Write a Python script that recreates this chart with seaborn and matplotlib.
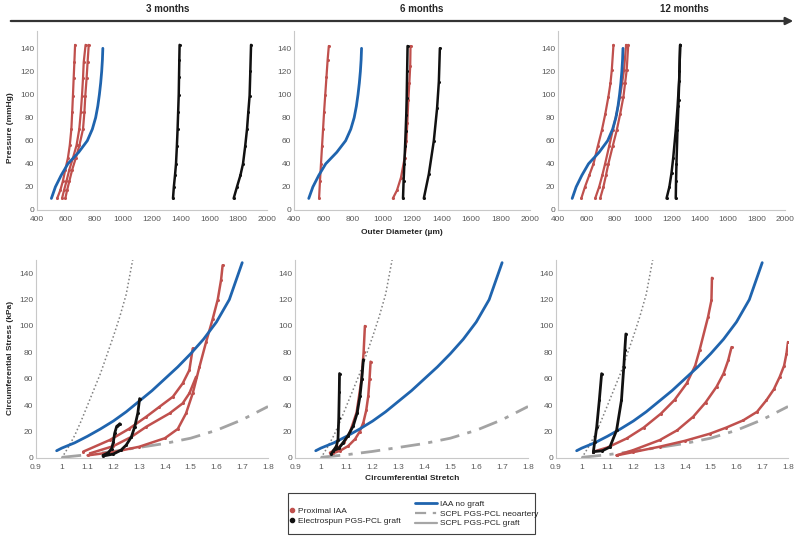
import matplotlib
matplotlib.use("Agg")
import matplotlib.pyplot as plt
from matplotlib.lines import Line2D
from matplotlib.patches import Rectangle, FancyArrowPatch
import seaborn as sns

sns.set_style("white")
plt.rcParams["font.family"] = ["Liberation Sans", "DejaVu Sans"]

# ---------------- data ----------------
periods = ["3 months", "6 months", "12 months"]

# pressure / outer diameter (top row)
iaa_press = [10, 20, 30, 40, 50, 60, 70, 80, 90, 100, 110, 120, 130, 140]
iaa_diam = [500, 528, 568, 615, 690, 750, 785, 808, 823, 834, 843, 850, 855, 858]

press_a = [10, 17, 25, 35, 45, 56, 70, 85, 99, 114, 128, 143]
m3_red1_diam = [540, 562, 580, 597, 615, 628, 639, 645, 650, 655, 660, 665]
m3_red2_diam = [574, 588, 605, 625, 650, 675, 694, 705, 713, 720, 725, 738]
m3_red3_diam = [597, 609, 625, 645, 670, 695, 720, 730, 736, 745, 752, 760]
m3_blk1_press = [10, 20, 30, 40, 55, 70, 85, 100, 115, 130, 143]
m3_blk1_diam = [1346, 1352, 1360, 1367, 1373, 1378, 1382, 1386, 1388, 1390, 1392]
m3_blk2_press = [10, 20, 30, 40, 55, 70, 85, 99, 120, 143]
m3_blk2_diam = [1768, 1791, 1815, 1833, 1848, 1861, 1870, 1879, 1884, 1889]

m6_red1_press = [10, 25, 40, 55, 70, 85, 100, 115, 130, 142]
m6_red1_diam = [570, 576, 583, 590, 597, 604, 612, 620, 628, 636]
m6_red2_press = [10, 17, 28, 45, 60, 75, 95, 110, 125, 142]
m6_red2_diam = [1070, 1098, 1125, 1150, 1162, 1168, 1175, 1182, 1188, 1190]
m6_blk1_press = [10, 25, 40, 55, 68, 82, 97, 120, 142]
m6_blk1_diam = [1139, 1143, 1148, 1153, 1157, 1161, 1164, 1167, 1170]
m6_blk2_press = [10, 31, 60, 88, 111, 140]
m6_blk2_diam = [1280, 1314, 1348, 1370, 1382, 1389]

press_b = [10, 20, 30, 40, 55, 69, 83, 98, 110, 121, 143]
m12_red1_diam = [564, 590, 620, 650, 680, 709, 733, 755, 770, 779, 791]
m12_red2_diam = [662, 690, 712, 732, 760, 786, 812, 837, 852, 865, 880]
m12_red3_diam = [697, 720, 738, 755, 785, 814, 838, 861, 873, 884, 895]
m12_blk1_press = [10, 20, 32, 45, 69, 90, 112, 143]
m12_blk1_diam = [1165, 1185, 1200, 1212, 1230, 1243, 1254, 1261]
m12_blk2_press = [10, 25, 40, 69, 95, 120, 143]
m12_blk2_diam = [1230, 1232, 1235, 1242, 1250, 1256, 1261]

# circumferential stress / stretch (bottom row)
iaa_stretch = [0.98, 1.0, 1.05, 1.1, 1.15, 1.2, 1.25, 1.3, 1.35, 1.4, 1.45, 1.5, 1.55, 1.6, 1.65, 1.7]
iaa_stress = [5.5, 7.5, 11.5, 16.5, 22, 28, 35, 43, 51, 60, 69, 79, 90, 103, 120, 148]
neo_stretch = [1.0, 1.1, 1.2, 1.3, 1.4, 1.5, 1.6, 1.7, 1.8]
neo_stress = [0.5, 2.5, 5, 8, 11, 15, 21, 29, 39]
graft_stretch = [1.0, 1.025, 1.05, 1.075, 1.1, 1.125, 1.15, 1.175, 1.2, 1.225, 1.25, 1.275]
graft_stress = [0, 8, 17, 28, 40, 52, 64, 78, 92, 107, 124, 150]

m3_r1_x = [1.083, 1.186, 1.26, 1.328, 1.379, 1.431, 1.469, 1.495, 1.508]
m3_r1_y = [4.8, 13.6, 22, 31.3, 38.8, 46.4, 56.5, 66.6, 83]
m3_r2_x = [1.1, 1.2, 1.3, 1.4, 1.45, 1.482, 1.508, 1.534, 1.56, 1.585, 1.605, 1.618, 1.624]
m3_r2_y = [2, 4.5, 8.5, 15, 22, 33.8, 49, 69, 88, 105, 120, 135, 146]
m3_r3_x = [1.109, 1.2, 1.27, 1.328, 1.418, 1.469, 1.495, 1.521]
m3_r3_y = [3.5, 9, 16, 23.7, 33.8, 41.4, 49, 61.5]
m3_b1_x = [1.16, 1.18, 1.193, 1.2, 1.205, 1.213, 1.22, 1.225]
m3_b1_y = [2, 4, 7, 12, 18.6, 24, 25, 26]
m3_b2_x = [1.16, 1.2, 1.23, 1.25, 1.27, 1.283, 1.295, 1.302]
m3_b2_y = [1.5, 3, 6, 9.8, 16, 23.7, 34, 45]

m6_r1_x = [1.035, 1.061, 1.09, 1.112, 1.138, 1.157, 1.165, 1.17]
m6_r1_y = [4, 6.8, 12, 19.3, 34.5, 59.5, 80, 100]
m6_r2_x = [1.045, 1.074, 1.105, 1.132, 1.15, 1.164, 1.175, 1.183, 1.188, 1.192]
m6_r2_y = [3.5, 5.5, 9, 14.3, 20, 26.8, 36, 47, 60, 73]
m6_b1_x = [1.04, 1.048, 1.06, 1.066, 1.069, 1.071, 1.072]
m6_b1_y = [3, 5.5, 9, 14, 30, 50, 64]
m6_b2_x = [1.048, 1.07, 1.086, 1.105, 1.125, 1.14, 1.151, 1.158, 1.164]
m6_b2_y = [5.5, 7.5, 11.7, 17, 24.3, 34, 46.9, 60, 74.5]

m12_r1_x = [1.045, 1.1, 1.174, 1.24, 1.307, 1.36, 1.407, 1.44, 1.457, 1.49, 1.503, 1.505]
m12_r1_y = [4.8, 8, 14.8, 23, 33.6, 44, 56.5, 70, 81.7, 107, 119.5, 136.5]
m12_r2_x = [1.135, 1.2, 1.303, 1.37, 1.432, 1.48, 1.523, 1.55, 1.568, 1.581]
m12_r2_y = [2, 6, 13.6, 21, 31.2, 42, 54, 64, 74, 84]
m12_r3_x = [1.135, 1.2, 1.303, 1.4, 1.497, 1.56, 1.626, 1.68, 1.716, 1.745, 1.768, 1.785, 1.794, 1.8]
m12_r3_y = [2, 4.5, 8.6, 13, 18.4, 23, 28.5, 35, 43.7, 52, 61.5, 70, 79, 87.9]
m12_b1_x = [1.045, 1.05, 1.058, 1.068, 1.077]
m12_b1_y = [4.8, 12, 23.6, 43.7, 63.9]
m12_b2_x = [1.045, 1.08, 1.109, 1.135, 1.154, 1.163, 1.167, 1.171]
m12_b2_y = [4.8, 5.5, 8.3, 21, 43.9, 69, 82, 94]

top_red = [
    [(m3_red1_diam, press_a), (m3_red2_diam, press_a), (m3_red3_diam, press_a)],
    [(m6_red1_diam, m6_red1_press), (m6_red2_diam, m6_red2_press)],
    [(m12_red1_diam, press_b), (m12_red2_diam, press_b), (m12_red3_diam, press_b)],
]
top_black = [
    [(m3_blk1_diam, m3_blk1_press), (m3_blk2_diam, m3_blk2_press)],
    [(m6_blk1_diam, m6_blk1_press), (m6_blk2_diam, m6_blk2_press)],
    [(m12_blk1_diam, m12_blk1_press), (m12_blk2_diam, m12_blk2_press)],
]
bot_red = [
    [(m3_r1_x, m3_r1_y), (m3_r2_x, m3_r2_y), (m3_r3_x, m3_r3_y)],
    [(m6_r1_x, m6_r1_y), (m6_r2_x, m6_r2_y)],
    [(m12_r1_x, m12_r1_y), (m12_r2_x, m12_r2_y), (m12_r3_x, m12_r3_y)],
]
bot_black = [
    [(m3_b1_x, m3_b1_y), (m3_b2_x, m3_b2_y)],
    [(m6_b1_x, m6_b1_y), (m6_b2_x, m6_b2_y)],
    [(m12_b1_x, m12_b1_y), (m12_b2_x, m12_b2_y)],
]

# ---------------- style ----------------
RED = "#c0504d"
BLACK = "#111111"
BLUE = "#1f64ae"
GRAY_DD = "#a3a3a3"
GRAY_DOT = "#7f7f7f"
TICK_C = "#595959"
SPINE_C = "#c8c8c8"

W, H = 800, 540
fig = plt.figure(figsize=(8, 5.4), dpi=100)


def px_axes(left, top, right, bottom):
    return fig.add_axes([left / W, 1 - bottom / H, (right - left) / W, (bottom - top) / H])


def trace(ax, x, y, color, lw, ls="-", marker=None):
    sns.lineplot(x=x, y=y, ax=ax, sort=False, estimator=None, color=color,
                 lw=lw, linestyle=ls, marker=marker, markersize=2.2,
                 markeredgewidth=0, legend=False)


def style_axes(ax):
    sns.despine(ax=ax)
    for s in ["left", "bottom"]:
        ax.spines[s].set_color(SPINE_C)
        ax.spines[s].set_linewidth(0.8)
    ax.tick_params(axis="both", labelsize=6, colors=SPINE_C, labelcolor=TICK_C,
                   length=2, width=0.6, pad=2)
    ax.tick_params(axis="y", length=0)
    ax.set_xlabel("")
    ax.set_ylabel("")


top_pos = [(37, 31, 267, 210), (294, 31, 530, 210), (558, 31, 785, 210)]
bot_pos = [(36, 260, 268, 458), (295, 260, 528, 458), (556, 260, 788, 458)]

for i in range(3):
    ax = px_axes(*top_pos[i])
    for x, y in top_red[i]:
        trace(ax, x, y, RED, 1.6, marker="o")
    trace(ax, iaa_diam, iaa_press, BLUE, 2.0)
    for x, y in top_black[i]:
        trace(ax, x, y, BLACK, 1.8, marker="o")
    ax.set_xlim(400, 2000)
    ax.set_ylim(0, 155)
    ax.set_xticks(range(400, 2001, 200))
    ax.set_yticks(range(0, 141, 20))
    style_axes(ax)

for i in range(3):
    ax = px_axes(*bot_pos[i])
    trace(ax, graft_stretch, graft_stress, GRAY_DOT, 1.1, ls=(0, (1, 1.6)))
    trace(ax, neo_stretch, neo_stress, GRAY_DD, 2.0, ls=(0, (7, 3, 1.5, 3)))
    for x, y in bot_red[i]:
        trace(ax, x, y, RED, 1.8, marker="o")
    trace(ax, iaa_stretch, iaa_stress, BLUE, 2.0)
    for x, y in bot_black[i]:
        trace(ax, x, y, BLACK, 2.0, marker="o")
    ax.set_xlim(0.9, 1.8)
    ax.set_ylim(0, 150)
    xt = [0.9, 1.0, 1.1, 1.2, 1.3, 1.4, 1.5, 1.6, 1.7, 1.8]
    ax.set_xticks(xt)
    ax.set_xticklabels([f"{v:g}" for v in xt])
    ax.set_yticks(range(0, 141, 20))
    style_axes(ax)

# axis titles
fig.text(11 / W, 1 - 128 / H, "Pressure (mmHg)", rotation=90, ha="center", va="center",
         fontsize=6, fontweight="bold", color="#262626")
fig.text(11 / W, 1 - 358 / H, "Circumferential Stress (kPa)", rotation=90, ha="center",
         va="center", fontsize=6, fontweight="bold", color="#262626")
fig.text(402 / W, 1 - 232 / H, "Outer Diameter (µm)", ha="center", va="center",
         fontsize=6, fontweight="bold", color="#262626")
fig.text(412 / W, 1 - 479 / H, "Circumferential Stretch", ha="center", va="center",
         fontsize=6, fontweight="bold", color="#262626")

# time arrow with period labels
fig.add_artist(FancyArrowPatch(
    (8 / W, 1 - 21 / H), (796 / W, 1 - 21 / H), transform=fig.transFigure,
    arrowstyle="-|>", mutation_scale=11, lw=1.6, color="#333333"))
for xp, label in zip([168, 422, 684], periods):
    fig.text(xp / W, 1 - 9 / H, label, ha="center", va="center", fontsize=7,
             fontweight="bold", color="#262626")

# legend
fig.add_artist(Rectangle((288 / W, 1 - 534 / H), 247 / W, 41 / H, transform=fig.transFigure,
                         fill=False, ec="#404040", lw=0.8))
h_left = [
    Line2D([], [], ls="none", marker="o", ms=3, color=RED, label="Proximal IAA"),
    Line2D([], [], ls="none", marker="o", ms=3, color=BLACK, label="Electrospun PGS-PCL graft"),
]
h_right = [
    Line2D([], [], color=BLUE, lw=2, label="IAA no graft"),
    Line2D([], [], color=GRAY_DD, lw=1.6, ls=(0, (5, 3, 1.5, 3)), label="SCPL PGS-PCL neoartery"),
    Line2D([], [], color="#a6a6a6", lw=1.6, label="SCPL PGS-PCL graft"),
]
fig.legend(handles=h_left, loc="center left", bbox_to_anchor=(290 / W, 1 - 516 / H),
           frameon=False, fontsize=6, handlelength=0.5, handletextpad=0.4,
           labelspacing=0.25, borderpad=0, borderaxespad=0)
fig.legend(handles=h_right, loc="center left", bbox_to_anchor=(415 / W, 1 - 514 / H),
           frameon=False, fontsize=6, handlelength=2.6, handletextpad=0.35,
           labelspacing=0.2, borderpad=0, borderaxespad=0)

fig.savefig("out.png", dpi=100)
